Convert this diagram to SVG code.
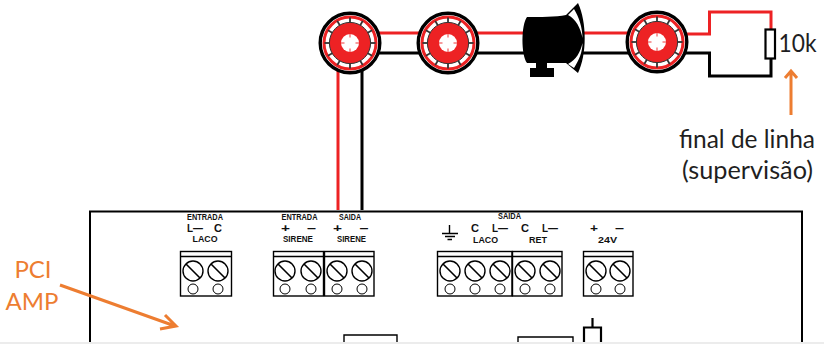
<svg xmlns="http://www.w3.org/2000/svg" xmlns:xlink="http://www.w3.org/1999/xlink" width="824" height="344" viewBox="0 0 824 344">
<style>
.lbl{font-family:"Lato","Liberation Sans",sans-serif;font-size:25px;fill:#1f1f1f}
.org{font-family:"Lato","Liberation Sans",sans-serif;font-size:24px;fill:#ed7d31}
.sm{font-family:"Liberation Sans",Arial,sans-serif;font-size:8.500px;font-weight:bold;fill:#111;text-anchor:middle}
.lg{font-family:"Liberation Sans",Arial,sans-serif;font-size:8.500px;font-weight:bold;fill:#111;text-anchor:middle}
.md{font-family:"Liberation Sans",Arial,sans-serif;font-size:11px;font-weight:bold;fill:#111}
.bl{fill:none;stroke:#000;stroke-width:1.4}
.red{fill:none;stroke:#ed2224;stroke-width:3}
.blk{fill:none;stroke:#000;stroke-width:3}
.arr{fill:none;stroke:#ed7d31;stroke-width:3}
</style>
<defs>
<g id="tick"><path d="M0-25.500V-20.500" stroke="#333" stroke-width="1.800"/></g>
<g id="det">
<circle r="29.800" fill="#fff" stroke="#000" stroke-width="3.400"/>
<circle r="26" fill="none" stroke="#ed2224" stroke-width="3"/>
<circle r="20.600" fill="#ed2224" stroke="#333" stroke-width="1"/>
<use xlink:href="#tick"/><use xlink:href="#tick" transform="rotate(30)"/><use xlink:href="#tick" transform="rotate(60)"/><use xlink:href="#tick" transform="rotate(90)"/><use xlink:href="#tick" transform="rotate(120)"/><use xlink:href="#tick" transform="rotate(150)"/><use xlink:href="#tick" transform="rotate(180)"/><use xlink:href="#tick" transform="rotate(210)"/><use xlink:href="#tick" transform="rotate(240)"/><use xlink:href="#tick" transform="rotate(270)"/><use xlink:href="#tick" transform="rotate(300)"/><use xlink:href="#tick" transform="rotate(330)"/>
<circle r="9" fill="#fff"/>
<path d="M-9 0H-5.500M5.500 0H9M0-9V-5.500M0 5.500V9" stroke="#ed2224" stroke-width="0.900"/>
</g>
<g id="scr">
<circle r="10" fill="#fff" stroke="#000" stroke-width="1.400"/>
<path d="M-7-7L7 7" stroke="#000" stroke-width="1.600"/>
<circle cy="18" r="5" fill="#fff" stroke="#000" stroke-width="1"/>
</g>
</defs>
<rect width="824" height="344" fill="#fff"/>
<g id="connectors">
<path class="red" d="M338 210V70"/>
<path class="blk" d="M362 210V70"/>
<path class="red" d="M378 33H420M476 33H526M580 33H630M685 34H709.500V12H771V30"/>
<path class="blk" d="M378 53H420M476 53H526M580 53H630M685 53H709.500V76H771V58"/>
</g>
<g id="det1"><use xlink:href="#det" transform="translate(350 43)"/></g>
<g id="det2"><use xlink:href="#det" transform="translate(448 43)"/></g>
<g id="det3"><use xlink:href="#det" transform="translate(657 42)"/></g>
<g id="sirene">
<path d="M527 17C521 25 521 55 527 63H536V68H530V77H554V68H547V63H566L578 73C587 55 587 22 578 3L566 15C556 17 540 17 527 17Z" fill="#000"/>
<path d="M574 9C579 17 582.500 28 582.500 38C580.500 28 576 19 568 15Z" fill="#fff"/>
<path d="M574 68C579 60 582.500 52 582.500 43C580.500 52 576 60 568 64Z" fill="#fff"/>
</g>
<g id="resistor"><rect x="765.500" y="29.500" width="9.500" height="29" fill="#fff" stroke="#000" stroke-width="2.200"/>
<text class="lbl" x="778.500" y="52" textLength="38" lengthAdjust="spacingAndGlyphs">10k</text></g>
<g id="supervisao">
<path class="arr" d="M791 115V71M785 78L791 71L797 78"/>
<text class="lbl" x="679" y="148" textLength="136" lengthAdjust="spacingAndGlyphs">final de linha</text>
<text class="lbl" x="682" y="179" textLength="131" lengthAdjust="spacingAndGlyphs">(supervisão)</text>
</g>
<g id="pci">
<path d="M90 342V211.500H802V342" fill="none" stroke="#000" stroke-width="2"/>
<path class="bl" d="M344 342V335H397V342M518 342V337H573V342"/>
<path d="M584 342V327.500H601V342M592.500 327V318" fill="none" stroke="#000" stroke-width="2.200"/>
</g>
<g id="pci-label">
<text class="org" x="33" y="278" text-anchor="middle">PCI</text>
<text class="org" x="32" y="310" text-anchor="middle">AMP</text>
<path class="arr" d="M60 285L175 326M160 329L176 326L165 315"/>
</g>
<g id="t-entrada-laco">
<rect class="bl" x="180.500" y="251.500" width="51" height="44.500" fill="#fff"/><path class="bl" d="M181 256.500H232"/>
<use xlink:href="#scr" x="193" y="271"/><use xlink:href="#scr" x="218" y="271"/>
<text class="sm" x="205" y="220" textLength="36" lengthAdjust="spacingAndGlyphs">ENTRADA</text>
<text class="md" x="187" y="232" textLength="16" lengthAdjust="spacingAndGlyphs">L—</text><text class="md" x="214" y="232">C</text>
<text class="lg" x="205" y="242" textLength="25" lengthAdjust="spacingAndGlyphs">LACO</text>
</g>
<g id="t-entrada-sirene">
<rect class="bl" x="273.500" y="251.500" width="50" height="44.500"/><path class="bl" d="M274 256.500H323"/>
<use xlink:href="#scr" x="285" y="271"/><use xlink:href="#scr" x="311" y="271"/>
<text class="sm" x="299.500" y="220" textLength="36" lengthAdjust="spacingAndGlyphs">ENTRADA</text>
<text class="md" x="281" y="232" textLength="9" lengthAdjust="spacingAndGlyphs">+</text><text class="md" x="307" y="232" textLength="9" lengthAdjust="spacingAndGlyphs">–</text>
<text class="lg" x="298" y="242" textLength="30" lengthAdjust="spacingAndGlyphs">SIRENE</text>
</g>
<g id="t-saida-sirene">
<rect class="bl" x="324.500" y="251.500" width="49.500" height="44.500"/><path class="bl" d="M325 256.500H374"/>
<use xlink:href="#scr" x="337" y="271"/><use xlink:href="#scr" x="362" y="271"/>
<text class="sm" x="350" y="220" textLength="22" lengthAdjust="spacingAndGlyphs">SAIDA</text>
<text class="md" x="333" y="232" textLength="9" lengthAdjust="spacingAndGlyphs">+</text><text class="md" x="359.500" y="232" textLength="9" lengthAdjust="spacingAndGlyphs">–</text>
<text class="lg" x="351.500" y="242" textLength="29" lengthAdjust="spacingAndGlyphs">SIRENE</text>
</g>
<g id="t-saida-laco">
<rect class="bl" x="437.500" y="251.500" width="74.500" height="44.500"/><path class="bl" d="M437 256.500H512"/>
<use xlink:href="#scr" x="450" y="271"/><use xlink:href="#scr" x="475" y="271"/><use xlink:href="#scr" x="500" y="271"/>
<path class="bl" d="M449.500 225V233.500M442 233.500H458M445 236.500H455M447.500 239.500H452"/>
<text class="sm" x="509.500" y="219" textLength="23" lengthAdjust="spacingAndGlyphs">SAIDA</text>
<text class="md" x="471" y="232" textLength="8" lengthAdjust="spacingAndGlyphs">C</text><text class="md" x="492" y="232" textLength="16" lengthAdjust="spacingAndGlyphs">L—</text>
<text class="lg" x="485.500" y="243" textLength="25" lengthAdjust="spacingAndGlyphs">LACO</text>
</g>
<g id="t-saida-ret">
<rect class="bl" x="512.500" y="251.500" width="49.500" height="44.500"/><path class="bl" d="M513 256.500H562"/>
<use xlink:href="#scr" x="525" y="271"/><use xlink:href="#scr" x="550" y="271"/>
<text class="md" x="521" y="232" textLength="8" lengthAdjust="spacingAndGlyphs">C</text><text class="md" x="542" y="232" textLength="16" lengthAdjust="spacingAndGlyphs">L—</text>
<text class="lg" x="538" y="243" textLength="18" lengthAdjust="spacingAndGlyphs">RET</text>
</g>
<g id="t-24v">
<rect class="bl" x="583.500" y="251.500" width="49.500" height="44.500"/><path class="bl" d="M584 256.500H633"/>
<use xlink:href="#scr" x="596" y="271"/><use xlink:href="#scr" x="620" y="271"/>
<text class="md" x="590" y="232" textLength="8" lengthAdjust="spacingAndGlyphs">+</text><text class="md" x="615" y="232" textLength="9" lengthAdjust="spacingAndGlyphs">–</text>
<text class="lg" x="607.500" y="243" textLength="19" lengthAdjust="spacingAndGlyphs">24V</text>
</g>
<rect id="bottom-edge" x="0" y="342" width="824" height="2" fill="#ececec"/>
</svg>
